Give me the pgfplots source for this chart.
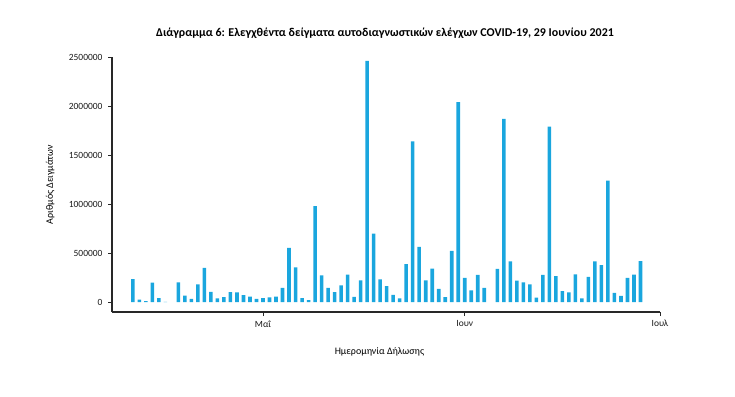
\documentclass[border=0pt]{standalone}
\usepackage{pgfplots}
\pgfplotsset{compat=1.18}
\usepackage{pgfplotstable}
\usepackage{fontspec}
\setmainfont{Carlito}
\definecolor{barblue}{RGB}{26,166,222}
\definecolor{axgray}{RGB}{40,40,40}
\pgfplotstableread{
day value
-20 236000
-19 27000
-18 10000
-17 199000
-16 41000
-15 3000
-13 202000
-12 68000
-11 34000
-10 182000
-9 350000
-8 106000
-7 38000
-6 51000
-5 103000
-4 99000
-3 72000
-2 58000
-1 34000
0 41000
1 48000
2 58000
3 147000
4 555000
5 356000
6 41000
7 21000
8 980000
9 274000
10 147000
11 103000
12 171000
13 281000
14 55000
15 223000
16 2460000
17 699000
18 233000
19 164000
20 75000
21 38000
22 387000
23 1640000
24 565000
25 223000
26 343000
27 137000
28 51000
29 524000
30 2040000
31 247000
32 120000
33 278000
34 147000
36 339000
37 1870000
38 415000
39 219000
40 202000
41 182000
42 46000
43 278000
44 1790000
45 267000
46 113000
47 99000
48 284000
49 38000
50 257000
51 415000
52 377000
53 1240000
54 96000
55 65000
56 247000
57 281000
58 418000
}\datatable
\begin{document}
\begin{tikzpicture}[x=1bp,y=1bp]
\useasboundingbox (0,0) rectangle (735,396);
\node[font=\bfseries\fontsize{12}{14}\selectfont] at (385,363) {Διάγραμμα 6: Ελεγχθέντα δείγματα αυτοδιαγνωστικών ελέγχων COVID-19, 29 Ιουνίου 2021};
\begin{axis}[
  at={(112bp,84bp)}, anchor=south west,
  scale only axis, width=548bp, height=255bp,
  xmin=-23.2, xmax=61, ymin=-100000, ymax=2500000,
  axis x line=bottom, axis y line=left,
  axis line style={-, axgray, line width=1.2bp},
  xtick={0,31,61}, xticklabels={Μαΐ,Ιουν,Ιουλ},
  ytick={0,500000,1000000,1500000,2000000,2500000},
  scaled y ticks=false,
  /pgf/number format/.cd, fixed, set thousands separator={}, assume math mode=true,
  /pgfplots/.cd,
  tick style={axgray, line width=0.9bp},
  tick align=outside, major tick length=4bp,
  ticklabel style={font=\fontsize{9.5}{11}\selectfont, text=black!90},
  xticklabel style={yshift=-1bp},
  yticklabel style={xshift=-2bp},
  xlabel={Ημερομηνία Δήλωσης},
  ylabel={Αριθμός Δειγμάτων},
  label style={font=\fontsize{8}{10}\selectfont, text=black!85},
  every axis x label/.style={at={(axis description cs:0.488,-0.157)}, anchor=center},
  every axis y label/.style={at={(axis description cs:-0.113,0.5)}, rotate=90, anchor=center},
  ybar, bar width=0.55,
]
\addplot[fill=barblue, draw=none] table[x=day, y=value] {\datatable};
\end{axis}
\end{tikzpicture}
\end{document}
